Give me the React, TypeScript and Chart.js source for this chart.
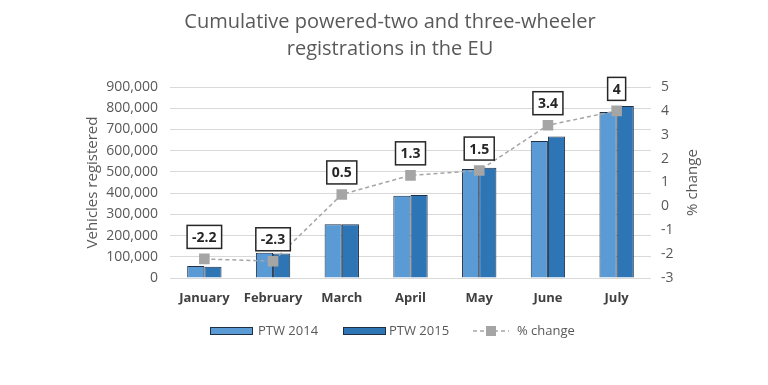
import React, { useEffect, useRef } from "react";
import { Chart, registerables } from "chart.js";

Chart.register(...registerables);

const months = ["January", "February", "March", "April", "May", "June", "July"];
const ptw2014 = [56000, 119000, 253000, 387000, 514000, 646000, 782000];
const ptw2015 = [53000, 116000, 253000, 391000, 520000, 667000, 811000];
const pctChange = [-2.2, -2.3, 0.5, 1.3, 1.5, 3.4, 4];
const titleLines = ["Cumulative powered-two and three-wheeler", "registrations in the EU"];
const rightAxisTitle = "% change";

const FONT = "'Open Sans', 'Noto Sans', sans-serif";
const GRAY = "#595959";
const C2014 = "#5b9bd5";
const C2015 = "#2e75b6";
const BORDER = "#1f2f44";
const LINEC = "#a5a5a5";

const fmt = (v: number) => v.toLocaleString("en-US");

const decorPlugin = {
  id: "decor",
  afterDatasetsDraw(chart: any) {
    const ctx = chart.ctx;
    const meta = chart.getDatasetMeta(2);
    ctx.save();
    ctx.font = `bold 14px ${FONT}`;
    ctx.textAlign = "center";
    ctx.textBaseline = "middle";
    meta.data.forEach((pt: any, i: number) => {
      const txt = String(pctChange[i]);
      const w = ctx.measureText(txt).width + 10;
      const h = 23;
      const cx = pt.x;
      const cy = pt.y - 22;
      ctx.fillStyle = "#ffffff";
      ctx.fillRect(cx - w / 2, cy - h / 2, w, h);
      ctx.lineWidth = 1.5;
      ctx.strokeStyle = "#262626";
      ctx.strokeRect(cx - w / 2, cy - h / 2, w, h);
      ctx.fillStyle = "#262626";
      ctx.fillText(txt, cx, cy + 1);
    });
    ctx.restore();
  },
  afterDraw(chart: any) {
    const ctx = chart.ctx;
    const area = chart.chartArea;
    ctx.save();
    // title
    ctx.fillStyle = GRAY;
    ctx.font = `20px ${FONT}`;
    ctx.textAlign = "center";
    ctx.textBaseline = "middle";
    titleLines.forEach((t, i) => ctx.fillText(t, 390, 22 + i * 27));
    // right axis title, reading bottom-to-top
    ctx.save();
    ctx.translate(693, (area.top + area.bottom) / 2);
    ctx.rotate(-Math.PI / 2);
    ctx.font = `15px ${FONT}`;
    ctx.fillText(rightAxisTitle, 0, 0);
    ctx.restore();
    // legend
    const ly = 331;
    ctx.font = `13px ${FONT}`;
    ctx.textAlign = "left";
    const drawBox = (x: number, color: string) => {
      ctx.fillStyle = color;
      ctx.fillRect(x, ly - 4, 43, 8);
      ctx.strokeStyle = BORDER;
      ctx.lineWidth = 1;
      ctx.strokeRect(x + 0.5, ly - 3.5, 42, 7);
    };
    drawBox(210, C2014);
    ctx.fillStyle = GRAY;
    ctx.fillText("PTW 2014", 258, ly);
    drawBox(343, C2015);
    ctx.fillStyle = GRAY;
    ctx.fillText("PTW 2015", 389, ly);
    ctx.strokeStyle = LINEC;
    ctx.lineWidth = 1.5;
    ctx.setLineDash([4, 3]);
    ctx.beginPath();
    ctx.moveTo(473, ly);
    ctx.lineTo(509, ly);
    ctx.stroke();
    ctx.setLineDash([]);
    ctx.fillStyle = LINEC;
    ctx.fillRect(486, ly - 5, 10, 10);
    ctx.fillStyle = GRAY;
    ctx.fillText("% change", 517, ly);
    ctx.restore();
  },
};

export default function App() {
  const ref = useRef<HTMLCanvasElement>(null);
  useEffect(() => {
    document.body.style.margin = "0";
    const chart = new Chart(ref.current!, {
      type: "bar",
      data: {
        labels: months,
        datasets: [
          {
            type: "bar",
            label: "PTW 2014",
            data: ptw2014,
            backgroundColor: C2014,
            borderColor: BORDER,
            borderWidth: 1,
            yAxisID: "y",
            order: 1,
            barPercentage: 1,
            categoryPercentage: 0.5,
          },
          {
            type: "bar",
            label: "PTW 2015",
            data: ptw2015,
            backgroundColor: C2015,
            borderColor: BORDER,
            borderWidth: 1,
            yAxisID: "y",
            order: 1,
            barPercentage: 1,
            categoryPercentage: 0.5,
          },
          {
            type: "line",
            label: "% change",
            data: pctChange,
            borderColor: LINEC,
            borderWidth: 1.5,
            borderDash: [4, 3],
            pointStyle: "rect",
            pointRadius: 7.5,
            pointBackgroundColor: LINEC,
            pointBorderColor: LINEC,
            pointBorderWidth: 0,
            yAxisID: "y1",
            order: 0,
          } as any,
        ],
      },
      options: {
        responsive: false,
        animation: false,
        layout: { padding: { left: 80, right: 62, top: 87, bottom: 0 } },
        plugins: {
          legend: { display: false },
          title: { display: false },
          tooltip: { enabled: false },
        },
        scales: {
          x: {
            grid: { display: false, drawTicks: false },
            border: { display: false },
            ticks: { color: "#404040", font: { family: FONT, size: 13, weight: "bold" }, padding: 12 },
            afterFit: (s: any) => { s.height = 107; },
          },
          y: {
            position: "left",
            min: 0,
            max: 900000,
            ticks: { stepSize: 100000, color: GRAY, font: { family: FONT, size: 14 }, padding: 12, callback: (v: any) => fmt(Number(v)) },
            grid: { color: "#d9d9d9", drawTicks: false },
            border: { display: false },
            title: { display: true, text: "Vehicles registered", color: GRAY, font: { family: FONT, size: 15 }, padding: { top: 4, bottom: 0 } },
            afterFit: (s: any) => { s.width = 90; },
          },
          y1: {
            position: "right",
            min: -3,
            max: 5,
            ticks: { stepSize: 1, color: GRAY, font: { family: FONT, size: 14 }, padding: 10 },
            grid: { display: false, drawTicks: false },
            border: { display: false },
            title: { display: false },
            afterFit: (s: any) => { s.width = 55; },
          },
        },
      },
      plugins: [decorPlugin],
    });
    return () => chart.destroy();
  }, []);
  return (
    <div style={{ width: 768, height: 385, background: "#fff" }}>
      <canvas ref={ref} width={768} height={385} />
    </div>
  );
}
